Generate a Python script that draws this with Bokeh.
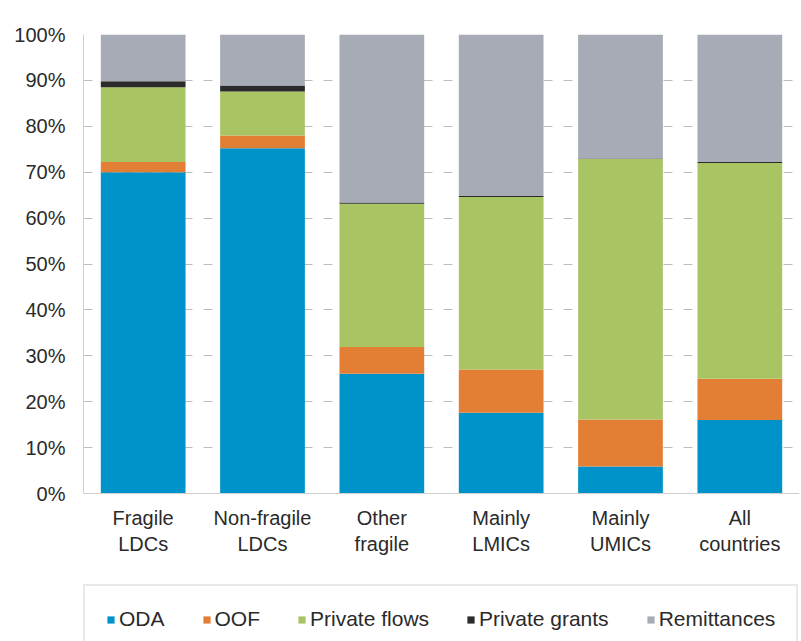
from bokeh.plotting import figure
from bokeh.models import (ColumnDataSource, FactorRange, Range1d, FixedTicker,
                          PrintfTickFormatter, Legend)
from bokeh.embed import file_html
from bokeh.resources import INLINE

# Country groups and the share (%) of each financing flow
groups = ["Fragile\nLDCs", "Non-fragile\nLDCs", "Other\nfragile",
          "Mainly\nLMICs", "Mainly\nUMICs", "All\ncountries"]
oda = [70.0, 75.2, 26.1, 17.6, 5.9, 16.0]
oof = [2.2, 2.8, 5.8, 9.4, 10.2, 9.0]
private_flows = [16.3, 9.6, 31.2, 37.6, 56.8, 47.0]
private_grants = [1.3, 1.3, 0.3, 0.2, 0.1, 0.2]
remittances = [10.2, 11.1, 36.6, 35.2, 27.0, 27.8]

series = ["ODA", "OOF", "Private flows", "Private grants", "Remittances"]
colors = ["#0093c9", "#e37f35", "#a8c463", "#2b2b2b", "#a6abb5"]
y_ticks = list(range(0, 101, 10))

FONT = "Liberation Sans"
TEXT_COLOR = "#2a2a2a"

# The plotting area runs down to the page bottom so the category labels and
# the legend box can sit inside it, underneath the 0% baseline.
BAR_AREA_PX = 459
BELOW_PX = 148
Y_MIN = -100 * BELOW_PX / BAR_AREA_PX

source = ColumnDataSource(data=dict(
    group=groups, ODA=oda, OOF=oof, **{"Private flows": private_flows,
                                      "Private grants": private_grants,
                                      "Remittances": remittances}))

p = figure(x_range=FactorRange(*groups, range_padding=0),
           y_range=Range1d(Y_MIN, 100),
           frame_width=716, frame_height=BAR_AREA_PX + BELOW_PX,
           output_backend="svg", toolbar_location=None,
           min_border_left=83, min_border_right=2, min_border_top=34,
           min_border_bottom=0)

renderers = p.vbar_stack(series, x="group", width=0.71, source=source,
                         color=colors, line_color=None)

# Axes
p.yaxis.ticker = FixedTicker(ticks=y_ticks)
p.yaxis.formatter = PrintfTickFormatter(format="%d%%")
p.yaxis.bounds = (0, 100)
p.xaxis.fixed_location = 0
for ax in (p.xaxis[0], p.yaxis[0]):
    ax.axis_line_color = "#cfcfcf"
    ax.major_tick_line_color = None
    ax.minor_tick_line_color = None
    ax.major_label_text_font = FONT
    ax.major_label_text_font_size = "20px"
    ax.major_label_text_color = TEXT_COLOR
p.yaxis.major_label_standoff = 12
p.xaxis.major_label_standoff = 7

# Grid
p.xgrid.grid_line_color = None
p.ygrid.grid_line_color = "#bdbdbd"
p.ygrid.grid_line_dash = "9 11"
p.ygrid.ticker = FixedTicker(ticks=y_ticks)
p.outline_line_color = None

# Legend box under the category labels, running off the bottom edge
legend = Legend(items=[(name, [r]) for name, r in zip(series, renderers)],
                orientation="horizontal", location=(0, -13),
                glyph_width=9, glyph_height=9, label_standoff=4, spacing=37,
                padding=21, margin=0,
                label_text_font=FONT, label_text_font_size="21px",
                label_text_color=TEXT_COLOR,
                border_line_color="#d4d4d4", border_line_width=2,
                background_fill_color="#ffffff")
p.add_layout(legend)

open("out.html", "w").write(file_html(p, INLINE))
